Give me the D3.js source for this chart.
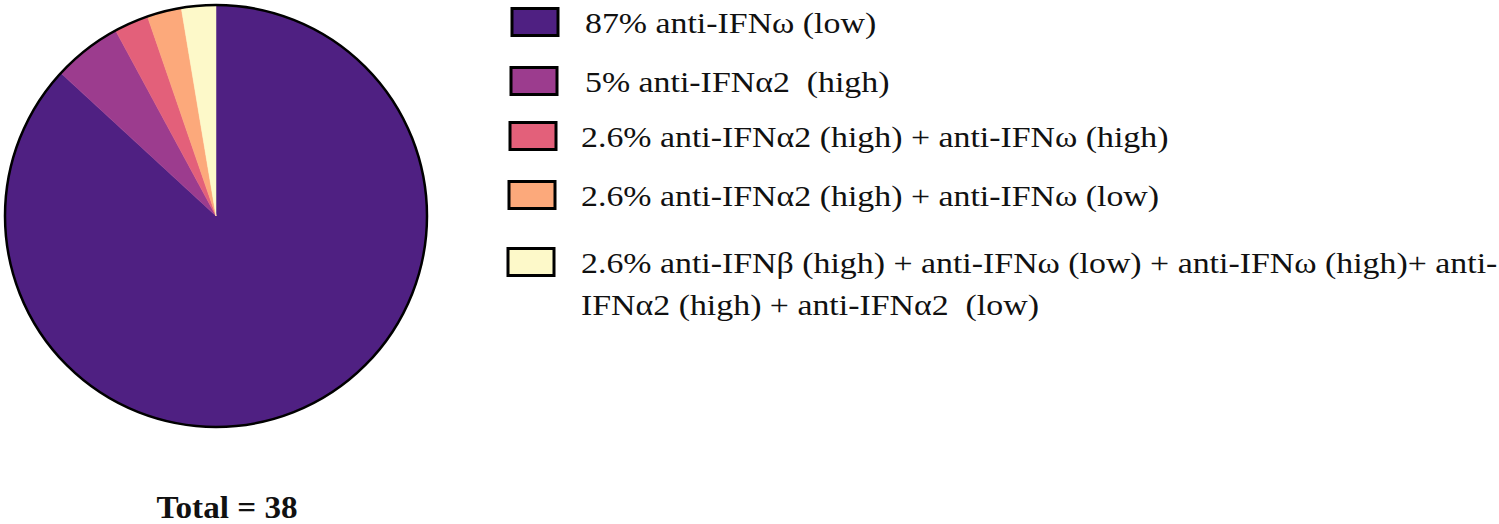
<!DOCTYPE html>
<html>
<head>
<meta charset="utf-8">
<script src="https://cdn.jsdelivr.net/npm/d3@7"></script>
<style>
  body { margin: 0; background: #fff; }
  svg text { font-family: "Liberation Serif", "Times New Roman", serif; fill: #111; white-space: pre; }
</style>
</head>
<body>
<svg id="chart" width="1499" height="524"></svg>
<script>
// counts out of 38 patients
var groups = ["w_low", "a2_high", "a2_high_w_high", "a2_high_w_low", "all"];
var counts = [33, 2, 1, 1, 1];
var colors = ["#4f2082", "#9c3c8e", "#e3607a", "#fca97b", "#fdf9c9"];
var legendLines = [
  ["87% anti-IFN\u03c9 (low)"],
  ["5% anti-IFN\u03b12  (high)"],
  ["2.6% anti-IFN\u03b12 (high) + anti-IFN\u03c9 (high)"],
  ["2.6% anti-IFN\u03b12 (high) + anti-IFN\u03c9 (low)"],
  ["2.6% anti-IFN\u03b2 (high) + anti-IFN\u03c9 (low) + anti-IFN\u03c9 (high)+ anti-",
   "IFN\u03b12 (high) + anti-IFN\u03b12  (low)"]
];
var total = d3.sum(counts);

var svg = d3.select("#chart");
var cx = 216, cy = 216, r = 211;

var pie = d3.pie().sort(null).value(function(d) { return d; });
var arc = d3.arc().innerRadius(0).outerRadius(r);
var color = d3.scaleOrdinal().domain(groups).range(colors);

var g = svg.append("g").attr("transform", "translate(" + cx + "," + cy + ")");
g.selectAll("path")
  .data(pie(counts))
  .enter()
  .append("path")
  .attr("d", arc)
  .attr("fill", function(d, i) { return color(groups[i]); })
  .attr("stroke", function(d, i) { return color(groups[i]); })
  .attr("stroke-width", 0.5);

g.append("circle")
  .attr("r", r)
  .attr("fill", "none")
  .attr("stroke", "#000")
  .attr("stroke-width", 2.5);

// legend rows, spacing is uneven in the original
var rowY = [22, 81, 136, 195, 262];
var legend = svg.append("g");
var row = legend.selectAll("g.row")
  .data(groups)
  .enter()
  .append("g")
  .attr("class", "row")
  .attr("transform", function(d, i) { return "translate(0," + rowY[i] + ")"; });

row.append("rect")
  .attr("x", function(d, i) { return 512 - i; })
  .attr("y", -13.5)
  .attr("width", 46)
  .attr("height", 27)
  .attr("fill", function(d) { return color(d); })
  .attr("stroke", "#000")
  .attr("stroke-width", 3);

row.each(function(d, i) {
  var lines = legendLines[i];
  var tx = i < 2 ? 585 : 581;
  d3.select(this).selectAll("text")
    .data(lines)
    .enter()
    .append("text")
    .attr("xml:space", "preserve")
    .attr("transform", function(l, j) {
      return "translate(" + tx + "," + (10.5 + j * 42) + ") scale(1.11,1)";
    })
    .attr("font-size", 30.5)
    .text(function(l) { return l; });
});

svg.append("text")
  .attr("transform", "translate(227,518) scale(1.07,1)")
  .attr("text-anchor", "middle")
  .attr("font-size", 31)
  .attr("font-weight", "bold")
  .text("Total = " + total);
</script>
</body>
</html>
